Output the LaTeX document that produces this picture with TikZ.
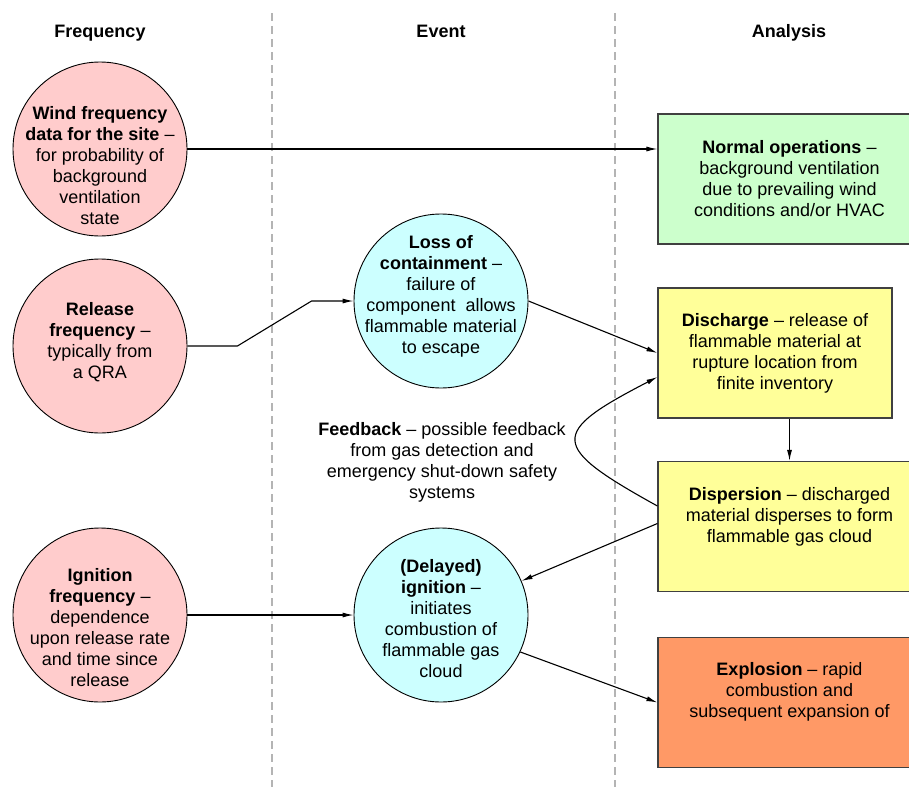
\documentclass[tikz,border=0pt]{standalone}
\usepackage{fontspec}
\setmainfont{Liberation Sans}
\usetikzlibrary{arrows.meta}

\definecolor{freqpink}{HTML}{FFCCCC}
\definecolor{eventcyan}{HTML}{CCFFFF}
\definecolor{normgreen}{HTML}{CCFFCC}
\definecolor{gasyellow}{HTML}{FFFF99}
\definecolor{blastorange}{HTML}{FF9966}
\definecolor{boxgray}{HTML}{404040}
\definecolor{sepgray}{HTML}{B4B4B4}

\tikzset{
  txt/.style={align=center, font=\fontsize{18}{21}\selectfont},
  head/.style={anchor=base, font=\fontsize{18}{21}\selectfont\bfseries},
  freq/.style={circle, draw, line width=0.9pt, fill=freqpink, minimum size=174pt, inner sep=0pt},
  event/.style={circle, draw, line width=0.9pt, fill=eventcyan, minimum size=174pt, inner sep=0pt},
  box/.style={draw=boxgray, line width=1.2pt, minimum width=263pt, minimum height=130pt, inner sep=0pt},
  link/.style={-{Latex[length=11pt,width=5pt]}, line width=1.1pt},
  sep/.style={draw=sepgray, line width=1.2pt, dash pattern=on 8pt off 5pt}
}

\begin{document}
\begin{tikzpicture}[x=1pt,y=-1pt]
\useasboundingbox (0,0) rectangle (909,787);
\clip (0,0) rectangle (909,787);

% column heads and separators
\node[head] (freqhead) at (100,37.5) {Frequency};
\node[head] (eventhead) at (441,37.5) {Event};
\node[head] (analysishead) at (789,37.5) {Analysis};
\coordinate (sepa1) at (272,13);
\coordinate (sepa2) at (272,787);
\coordinate (sepb1) at (615,13);
\coordinate (sepb2) at (615,787);
\draw[sep] (sepa1) -- (sepa2);
\draw[sep] (sepb1) -- (sepb2);

% frequency column
\node[freq] (wind) at (100,149) {};
\node[txt] at (100,166) {\textbf{Wind frequency}\\ \textbf{data for the site} –\\ for probability of\\ background\\ ventilation\\ state};
\node[freq] (release) at (100,346) {};
\node[txt] at (100,342) {\textbf{Release}\\ \textbf{frequency} –\\ typically from\\ a QRA};
\node[freq] (ignfreq) at (100,615) {};
\node[txt] at (100,628) {\textbf{Ignition}\\ \textbf{frequency} –\\ dependence\\ upon release rate\\ and time since\\ release};

% event column
\node[event] (loss) at (441,301) {};
\node[txt] at (441,296) {\textbf{Loss of}\\ \textbf{containment} –\\ failure of\\ component\ \ allows\\ flammable material\\ to escape};
\node[event] (ignition) at (441,615) {};
\node[txt] at (441,619) {\textbf{(Delayed)}\\ \textbf{ignition} –\\ initiates\\ combustion of\\ flammable gas\\ cloud};
\node[txt] (feedback) at (442,462) {\textbf{Feedback} – possible feedback\\ from gas detection and\\ emergency shut-down safety\\ systems};

% analysis column
\node[box, fill=normgreen] (normal) at (789.5,179) {};
\node[txt] at (789.5,179) {\textbf{Normal operations} –\\ background ventilation\\ due to prevailing wind\\ conditions and/or HVAC};
\node[box, fill=gasyellow, minimum width=234pt] (discharge) at (775,353) {};
\node[txt] at (775,353) {\textbf{Discharge} – release of\\ flammable material at\\ rupture location from\\ finite inventory};
\node[box, fill=gasyellow] (dispersion) at (789.5,526.5) {};
\node[txt] at (789.5,517) {\textbf{Dispersion} – discharged\\ material disperses to form\\ flammable gas cloud};
\node[box, fill=blastorange] (explosion) at (789.5,702.5) {};
\node[txt] at (789.5,692) {\textbf{Explosion} – rapid\\ combustion and\\ subsequent expansion of};

% connectors
\draw[link] (wind.east) -- (wind.east -| normal.west);
\draw[link] (release.east) -- ++(50,0) -- ([xshift=-42pt]loss.west) -- (loss.west);
\draw[link] (loss.east) -- (discharge.west);
\draw[link] (dispersion.north |- discharge.south) -- (dispersion.north);
\draw[link] ([yshift=20.5pt]dispersion.west) .. controls (549,446) and (549,433) .. ([yshift=-24pt]discharge.west);
\draw[link] ([yshift=3pt]dispersion.west) -- (ignition);
\draw[link] (ignfreq.east) -- (ignition.west);
\draw[link] (ignition.-25) -- (explosion.west);
\end{tikzpicture}
\end{document}
